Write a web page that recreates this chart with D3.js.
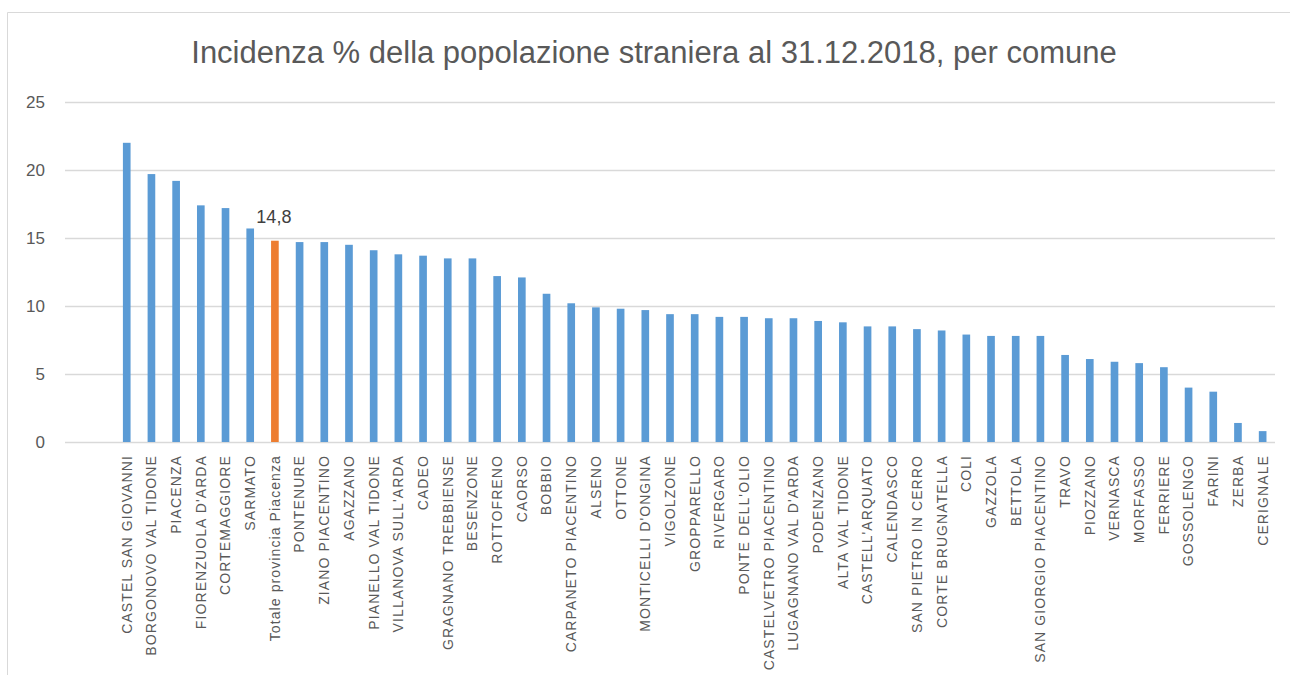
<!DOCTYPE html>
<html>
<head>
<meta charset="utf-8">
<script src="https://cdn.jsdelivr.net/npm/d3@7"></script>
<style>
  body { margin: 0; background: #fff; }
  text { font-family: "Liberation Sans", Arial, sans-serif; }
</style>
</head>
<body>
<div id="viz"></div>
<script>
const colorBar = '#5B9BD5';
const colorTotal = '#ED7D31';
const colorText = '#595959';

const comuni = [
  'CASTEL SAN GIOVANNI', 'BORGONOVO VAL TIDONE', 'PIACENZA', "FIORENZUOLA D'ARDA",
  'CORTEMAGGIORE', 'SARMATO', 'Totale provincia Piacenza', 'PONTENURE',
  'ZIANO PIACENTINO', 'AGAZZANO', 'PIANELLO VAL TIDONE', "VILLANOVA SULL'ARDA",
  'CADEO', 'GRAGNANO TREBBIENSE', 'BESENZONE', 'ROTTOFRENO', 'CAORSO', 'BOBBIO',
  'CARPANETO PIACENTINO', 'ALSENO', 'OTTONE', "MONTICELLI D'ONGINA", 'VIGOLZONE',
  'GROPPARELLO', 'RIVERGARO', "PONTE DELL'OLIO", 'CASTELVETRO PIACENTINO',
  "LUGAGNANO VAL D'ARDA", 'PODENZANO', 'ALTA VAL TIDONE', "CASTELL'ARQUATO",
  'CALENDASCO', 'SAN PIETRO IN CERRO', 'CORTE BRUGNATELLA', 'COLI', 'GAZZOLA',
  'BETTOLA', 'SAN GIORGIO PIACENTINO', 'TRAVO', 'PIOZZANO', 'VERNASCA', 'MORFASSO',
  'FERRIERE', 'GOSSOLENGO', 'FARINI', 'ZERBA', 'CERIGNALE'
];

const incidenza = [
  22.0, 19.7, 19.2, 17.4,
  17.2, 15.7, 14.8, 14.7,
  14.7, 14.5, 14.1, 13.8,
  13.7, 13.5, 13.5, 12.2, 12.1, 10.9,
  10.2, 9.9, 9.8, 9.7, 9.4,
  9.4, 9.2, 9.2, 9.1,
  9.1, 8.9, 8.8, 8.5,
  8.5, 8.3, 8.2, 7.9, 7.8,
  7.8, 7.8, 6.4, 6.1, 5.9, 5.8,
  5.5, 4.0, 3.7, 1.4, 0.8
];

const totaleLabel = 'Totale provincia Piacenza';
const yTicks = [0, 5, 10, 15, 20, 25];
const title = 'Incidenza % della popolazione straniera al 31.12.2018, per comune';

const dimensions = {
  width: 1290,
  height: 675,
  plotLeft: 65,
  plotRight: 1275,
  plotTop: 102,
  plotBottom: 442
};

const data = comuni.map((c, i) => ({ comune: c, value: incidenza[i] }));

const svg = d3.select('#viz')
  .append('svg')
  .attr('width', dimensions.width)
  .attr('height', dimensions.height);

// chart area border (top + left visible in the crop)
svg.append('line')
  .attr('x1', 7.5).attr('x2', 7.5).attr('y1', 12.5).attr('y2', dimensions.height)
  .attr('stroke', '#d9d9d9');
svg.append('line')
  .attr('x1', 7.5).attr('x2', dimensions.width).attr('y1', 12.5).attr('y2', 12.5)
  .attr('stroke', '#d9d9d9');

// the category axis has two empty slots before the first comune
const step = (dimensions.plotRight - dimensions.plotLeft) / (comuni.length + 2);

const xScale = d3.scaleBand()
  .domain(comuni)
  .range([dimensions.plotLeft + 2 * step, dimensions.plotRight])
  .paddingInner(0.69)
  .paddingOuter(0.345);

const yScale = d3.scaleLinear()
  .domain([0, 25])
  .range([dimensions.plotBottom, dimensions.plotTop]);

// gridlines
svg.append('g')
  .selectAll('line')
  .data(yTicks)
  .join('line')
  .attr('x1', dimensions.plotLeft)
  .attr('x2', dimensions.plotRight)
  .attr('y1', d => Math.round(yScale(d)) + 0.5)
  .attr('y2', d => Math.round(yScale(d)) + 0.5)
  .attr('stroke', '#d9d9d9')
  .attr('stroke-width', 1.3);

// y axis labels
const yAxis = svg.append('g')
  .attr('transform', `translate(45,0)`)
  .call(d3.axisLeft(yScale).tickValues(yTicks).tickSize(0).tickPadding(0));
yAxis.select('.domain').remove();
yAxis.selectAll('text')
  .style('font-size', '17px')
  .style('font-family', '"Liberation Sans", Arial, sans-serif')
  .attr('fill', colorText);

// bars
svg.append('g')
  .selectAll('rect')
  .data(data)
  .join('rect')
  .attr('x', d => xScale(d.comune))
  .attr('width', xScale.bandwidth())
  .attr('y', d => yScale(d.value))
  .attr('height', d => yScale(0) - yScale(d.value))
  .attr('fill', d => d.comune === totaleLabel ? colorTotal : colorBar);

// data label on the province total
const tot = data.find(d => d.comune === totaleLabel);
svg.append('text')
  .attr('x', xScale(tot.comune) + xScale.bandwidth() / 2 - 1)
  .attr('y', yScale(tot.value) - 18)
  .attr('text-anchor', 'middle')
  .style('font-size', '18px')
  .attr('fill', '#404040')
  .text(String(tot.value).replace('.', ','));

// category labels
const xAxis = svg.append('g')
  .attr('transform', `translate(0,${dimensions.plotBottom})`)
  .call(d3.axisBottom(xScale).tickSize(0).tickPadding(0));
xAxis.select('.domain').remove();
xAxis.selectAll('text')
  .attr('transform', 'rotate(-90)')
  .attr('x', -13)
  .attr('y', 0)
  .attr('dy', '0.35em')
  .attr('text-anchor', 'end')
  .style('font-size', '14px')
  .style('letter-spacing', '1.1px')
  .style('font-family', '"Liberation Sans", Arial, sans-serif')
  .attr('fill', colorText);

// title
svg.append('text')
  .attr('x', 654)
  .attr('y', 63)
  .attr('text-anchor', 'middle')
  .style('font-size', '31px')
  .attr('fill', colorText)
  .text(title);
</script>
</body>
</html>
